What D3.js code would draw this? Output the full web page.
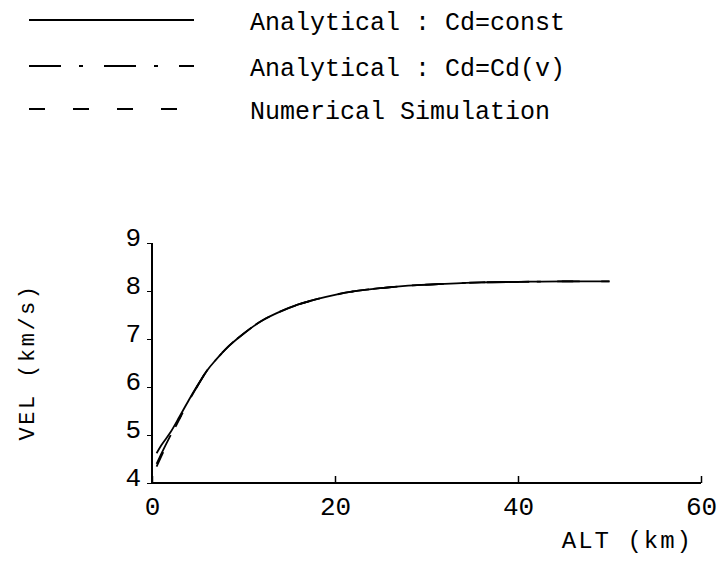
<!DOCTYPE html>
<meta charset="utf-8">
<script src="https://d3js.org/d3.v7.min.js"></script>
<style>
  body { margin: 0; background: #fff; }
  text { font-family: "Liberation Mono", "DejaVu Sans Mono", monospace; fill: #000; }
</style>
<div id="my_dataviz"></div>
<script>

// data
var alt    = [0.5, 1, 2, 3, 4, 5, 6, 7, 8, 10, 12, 14, 16, 18, 20, 22, 25, 28, 32, 36, 40, 45, 50];
var vConst = [4.62, 4.78, 5.05, 5.38, 5.72, 6.04, 6.34, 6.57, 6.78, 7.11, 7.38, 7.57, 7.72, 7.83, 7.92, 7.99, 8.06, 8.11, 8.15, 8.18, 8.19, 8.2, 8.2];
var vCdv   = [4.40, 4.60, 4.98, 5.34, 5.70, 6.03, 6.34, 6.57, 6.78, 7.11, 7.38, 7.57, 7.72, 7.83, 7.92, 7.99, 8.06, 8.11, 8.15, 8.18, 8.19, 8.2, 8.2];
var vNum   = [4.34, 4.55, 4.96, 5.33, 5.70, 6.03, 6.34, 6.57, 6.78, 7.11, 7.38, 7.57, 7.72, 7.83, 7.92, 7.99, 8.06, 8.11, 8.15, 8.18, 8.19, 8.2, 8.2];
var xTicks = [0, 20, 40, 60];
var yTicks = [4, 5, 6, 7, 8, 9];
var legendLabels = ["Analytical : Cd=const", "Analytical : Cd=Cd(v)", "Numerical Simulation"];
var dashes = [null, "32,18,4,21,32,18,4,21,18", "16,28"];

var width = 719, height = 572;

var svg = d3.select("#my_dataviz")
  .append("svg")
    .attr("width", width)
    .attr("height", height);

// scales
var x = d3.scaleLinear().domain([0, 60]).range([152, 701]);
var y = d3.scaleLinear().domain([4, 9]).range([483, 243]);

// X axis
var xAxis = svg.append("g")
  .attr("transform", "translate(0," + y(4) + ")")
  .call(d3.axisBottom(x).tickValues(xTicks).tickSize(-7).tickPadding(7).tickFormat(d3.format("d")));
xAxis.select(".domain").attr("d", "M" + x(0) + ",0H" + x(60)).attr("stroke-width", 2);
xAxis.selectAll(".tick line").attr("stroke-width", 1.5);
xAxis.selectAll(".tick text").attr("font-size", 26).attr("dy", "0.75em").attr("y", 12);

// Y axis
var yAxis = svg.append("g")
  .attr("transform", "translate(" + x(0) + ",0)")
  .call(d3.axisLeft(y).tickValues(yTicks).tickSize(5).tickPadding(6).tickFormat(d3.format("d")));
yAxis.select(".domain").attr("d", "M0," + y(4) + "V" + y(9)).attr("stroke-width", 2);
yAxis.selectAll(".tick text").attr("font-size", 26).attr("dy", "0.1em");

// axis titles
svg.append("text")
  .attr("x", 693).attr("y", 548)
  .attr("text-anchor", "end")
  .attr("font-size", 24)
  .attr("letter-spacing", 2)
  .text("ALT (km)");

svg.append("text")
  .attr("transform", "translate(34,362) rotate(-90)")
  .attr("text-anchor", "middle")
  .attr("font-size", 22)
  .attr("letter-spacing", 2.5)
  .text("VEL (km/s)");

// curves
var line = d3.line()
  .x(function(d) { return x(d[0]); })
  .y(function(d) { return y(d[1]); })
  .curve(d3.curveMonotoneX);

[vConst, vCdv, vNum].forEach(function(vals, i) {
  svg.append("path")
    .datum(alt.map(function(a, j) { return [a, vals[j]]; }))
    .attr("fill", "none")
    .attr("stroke", "#000")
    .attr("stroke-width", 1.8)
    .attr("stroke-dasharray", dashes[i])
    .attr("d", line);
});

// legend
var rowY = [20, 66, 109];
legendLabels.forEach(function(lbl, i) {
  svg.append("line")
    .attr("x1", 29).attr("x2", 194)
    .attr("y1", rowY[i]).attr("y2", rowY[i])
    .attr("stroke", "#000")
    .attr("stroke-width", 2)
    .attr("stroke-dasharray", dashes[i]);
  svg.append("text")
    .attr("x", 250).attr("y", rowY[i] + 10)
    .attr("font-size", 25)
    .text(lbl);
});

</script>
